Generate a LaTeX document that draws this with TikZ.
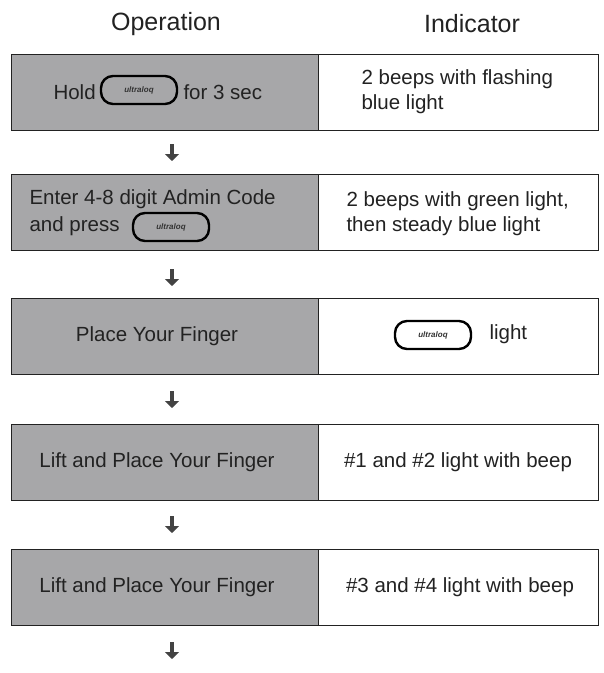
\documentclass[tikz,border=0pt]{standalone}
\usepackage{fontspec}
\setmainfont{Liberation Sans}
\usetikzlibrary{arrows.meta}
\definecolor{gbox}{HTML}{A7A7A9}
\definecolor{txt}{HTML}{222222}
\tikzset{
 opbox/.style={draw=txt,line width=1pt,fill=gbox,minimum width=307pt,minimum height=76pt,anchor=north west,inner sep=0pt},
 indbox/.style={draw=txt,line width=1pt,fill=white,minimum width=280pt,minimum height=76pt,anchor=north west,inner sep=0pt},
 lbl/.style={font=\fontsize{20.5}{25}\selectfont,text=txt,align=left},
 hdr/.style={font=\fontsize{25}{30}\selectfont,text=txt},
 logo/.style={draw=black,line width=2.4pt,rounded corners=12pt,minimum width=76pt,minimum height=28pt,inner sep=0pt,font=\fontsize{8}{9}\selectfont\bfseries\itshape,text=black!80},
 arr/.style={-{Triangle[length=7pt,width=14pt]},line width=4pt,draw=txt!85}
}
\begin{document}
\begin{tikzpicture}[x=1pt,y=-1pt]
\useasboundingbox (0,0) rectangle (604,673);
\node[hdr] (h1) at (166,24) {Operation};
\node[hdr] (h2) at (472,24) {Indicator};
\foreach \i/\y in {1/54,2/174,3/298,4/424,5/549}{
 \node[opbox] (o\i) at (11,\y) {};
 \node[indbox] (r\i) at (318,\y) {};
}
% row 1
\node[lbl,anchor=west] (t1) at (50,92) {Hold};
\node[logo] (l1) at (139,90) {ultraloq};
\node[lbl,anchor=west] (t1b) at (180,92) {for 3 sec};
\node[lbl,anchor=west] (i1) at (358,92) {2 beeps with flashing\\blue light};
% row 2
\node[lbl,anchor=west] (t2) at (26,199) {Enter 4-8 digit Admin Code};
\node[lbl,anchor=west] (t2b) at (26,226) {and press};
\node[logo] (l2) at (171,227) {ultraloq};
\node[lbl,anchor=west] (i2) at (343,214) {2 beeps with green light,\\then steady blue light};
% row 3
\node[lbl] (t3) at (157,336) {Place Your Finger};
\node[logo] (l3) at (433,335) {ultraloq};
\node[lbl,anchor=west] (i3) at (486,334) {light};
% row 4
\node[lbl] (t4) at (157,462) {Lift and Place Your Finger};
\node[lbl] (i4) at (458,462) {\#1 and \#2 light with beep};
% row 5
\node[lbl] (t5) at (157,587) {Lift and Place Your Finger};
\node[lbl] (i5) at (460,587) {\#3 and \#4 light with beep};
% arrows
\foreach \n/\y in {a1/144,a2/269,a3/391,a4/516,a5/642}{
 \coordinate (\n) at (172,\y);
 \coordinate (\n e) at (172,\y+17);
 \draw[arr] (\n) -- (\n e);
}
\end{tikzpicture}
\end{document}
